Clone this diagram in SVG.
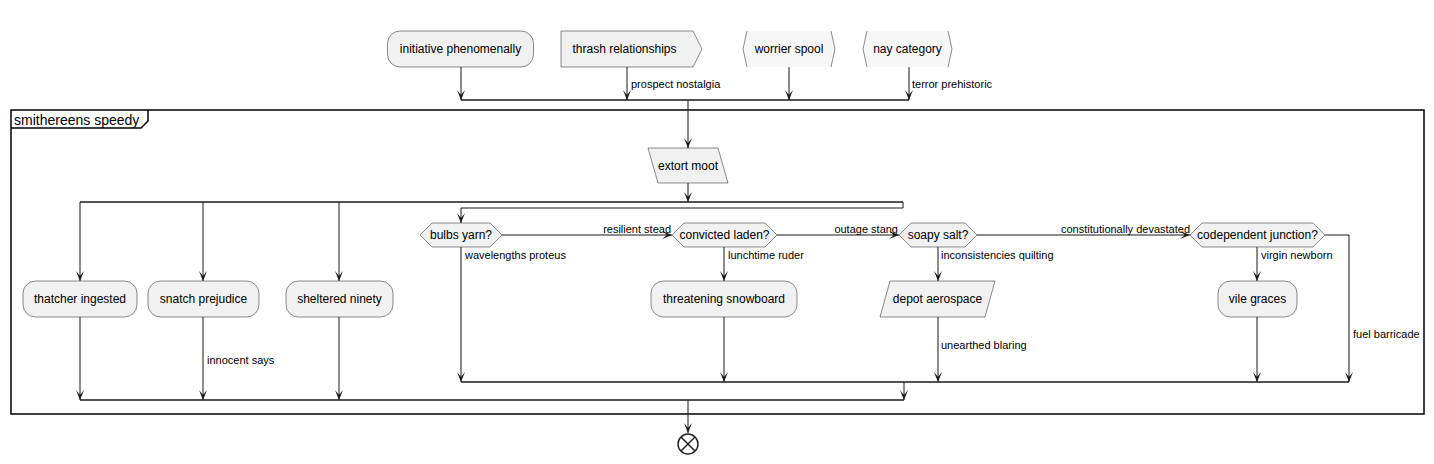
<svg xmlns="http://www.w3.org/2000/svg" width="1434" height="464" viewBox="0 0 1434 464">
<style>
.n{fill:#F1F1F1;stroke:#181818;stroke-width:0.5}
.b{fill:none;stroke:#181818;stroke-width:0.5}
.t{font-family:"Liberation Sans",Arial,sans-serif;font-size:12px;fill:#000;text-anchor:middle}
.l{font-family:"Liberation Sans",Arial,sans-serif;font-size:11px;fill:#000}
.e{text-anchor:end}
.c{fill:none;stroke:#181818;stroke-width:1}
.bar{fill:none;stroke:#181818;stroke-width:1.5}
.a{marker-end:url(#arr)}
</style>
<defs>
<marker id="arr" markerUnits="userSpaceOnUse" markerWidth="10" markerHeight="10" refX="10" refY="5" orient="auto" viewBox="0 0 10 10">
<path d="M0,1 L10,5 L0,9 L5,5 Z" fill="#181818"/>
</marker>
</defs>
<rect width="1434" height="464" fill="#FFFFFF"/>
<g id="frame">
<rect x="11" y="110" width="1413" height="304" fill="none" stroke="#000" stroke-width="1.5"/>
<path d="M11,128 L141,128 L148,121 L148,110" fill="none" stroke="#000" stroke-width="1.5"/>
<text x="14" y="125" style="font-family:'Liberation Sans',Arial,sans-serif;font-size:14px">smithereens speedy</text>
</g>
<g id="connectors">
<line class="c a" x1="461" y1="67" x2="461" y2="100"/>
<line class="c a" x1="627" y1="67" x2="627" y2="100"/>
<line class="c a" x1="789" y1="67" x2="789" y2="100"/>
<line class="c a" x1="909" y1="67" x2="909" y2="100"/>
<text class="l" x="631" y="88">prospect nostalgia</text>
<text class="l" x="912" y="88">terror prehistoric</text>
<line class="bar" x1="461" y1="100" x2="909" y2="100"/>
<line class="c a" x1="688" y1="100" x2="688" y2="148"/>
<line class="c a" x1="688" y1="183" x2="688" y2="202"/>
<line class="bar" x1="80" y1="202" x2="903" y2="202"/>
<polyline class="c a" points="903,202 903,208 461,208 461,223"/>
<line class="c a" x1="80" y1="202" x2="80" y2="281"/>
<line class="c a" x1="203" y1="202" x2="203" y2="281"/>
<line class="c a" x1="339" y1="202" x2="339" y2="281"/>
<line class="c a" x1="80" y1="317" x2="80" y2="400"/>
<line class="c a" x1="203" y1="317" x2="203" y2="400"/>
<text class="l" x="207" y="364">innocent says</text>
<line class="c a" x1="339" y1="317" x2="339" y2="400"/>
<line class="c a" x1="502" y1="235" x2="672" y2="235"/>
<text class="l e" x="671" y="233">resilient stead</text>
<line class="c a" x1="777" y1="235" x2="899" y2="235"/>
<text class="l e" x="898" y="233">outage stang</text>
<line class="c a" x1="977" y1="235" x2="1190" y2="235"/>
<text class="l e" x="1190" y="233">constitutionally devastated</text>
<polyline class="c a" points="1325,235 1349,235 1349,382"/>
<text class="l" x="1353" y="338">fuel barricade</text>
<line class="c a" x1="461" y1="247" x2="461" y2="382"/>
<text class="l" x="465" y="259">wavelengths proteus</text>
<line class="c a" x1="724" y1="247" x2="724" y2="281"/>
<text class="l" x="728" y="259">lunchtime ruder</text>
<line class="c a" x1="724" y1="317" x2="724" y2="382"/>
<line class="c a" x1="938" y1="247" x2="938" y2="281"/>
<text class="l" x="941" y="259">inconsistencies quilting</text>
<line class="c a" x1="938" y1="317" x2="938" y2="382"/>
<text class="l" x="941" y="349">unearthed blaring</text>
<line class="c a" x1="1257" y1="247" x2="1257" y2="281"/>
<text class="l" x="1261" y="259">virgin newborn</text>
<line class="c a" x1="1257" y1="317" x2="1257" y2="382"/>
<line class="bar" x1="461" y1="382" x2="1349" y2="382"/>
<line class="c a" x1="904" y1="382" x2="904" y2="400"/>
<line class="bar" x1="80" y1="400" x2="904" y2="400"/>
<line class="c a" x1="688" y1="400" x2="688" y2="433"/>
</g>
<g id="initiative-phenomenally">
<rect class="n" x="387.5" y="31" width="146" height="36" rx="12.5"/>
<text class="t" x="460.5" y="53">initiative phenomenally</text>
</g>
<g id="thrash-relationships">
<polygon class="n" points="561,31 693,31 702,49 693,67 561,67"/>
<text class="t" x="624.5" y="53">thrash relationships</text>
</g>
<g id="worrier-spool">
<polygon points="747,31 831,31 835,49 831,67 747,67 743,49" fill="#F7F7F7"/>
<polyline class="b" points="747,31 743,49 747,67"/>
<polyline class="b" points="831,31 835,49 831,67"/>
<text class="t" x="789" y="53">worrier spool</text>
</g>
<g id="nay-category">
<polygon points="867,31 948,31 952,49 948,67 867,67 863,49" fill="#F7F7F7"/>
<polyline class="b" points="867,31 863,49 867,67"/>
<polyline class="b" points="948,31 952,49 948,67"/>
<text class="t" x="907.5" y="53">nay category</text>
</g>
<g id="extort-moot">
<polygon class="n" points="648,148 718,148 728,183 658,183"/>
<text class="t" x="688" y="170">extort moot</text>
</g>
<g id="thatcher-ingested">
<rect class="n" x="23" y="281" width="114" height="36" rx="12.5"/>
<text class="t" x="80" y="303">thatcher ingested</text>
</g>
<g id="snatch-prejudice">
<rect class="n" x="148" y="281" width="111" height="36" rx="12.5"/>
<text class="t" x="203.5" y="303">snatch prejudice</text>
</g>
<g id="sheltered-ninety">
<rect class="n" x="286" y="281" width="107" height="36" rx="12.5"/>
<text class="t" x="339.5" y="303">sheltered ninety</text>
</g>
<g id="bulbs-yarn">
<polygon class="n" points="420,235 432,223 490,223 502,235 490,247 432,247"/>
<text class="t" x="461" y="239">bulbs yarn?</text>
</g>
<g id="convicted-laden">
<polygon class="n" points="672,235 684,223 765,223 777,235 765,247 684,247"/>
<text class="t" x="724.5" y="239">convicted laden?</text>
</g>
<g id="soapy-salt">
<polygon class="n" points="899,235 911,223 965,223 977,235 965,247 911,247"/>
<text class="t" x="938" y="239">soapy salt?</text>
</g>
<g id="codependent-junction">
<polygon class="n" points="1190,235 1202,223 1313,223 1325,235 1313,247 1202,247"/>
<text class="t" x="1257.5" y="239">codependent junction?</text>
</g>
<g id="threatening-snowboard">
<rect class="n" x="651" y="281" width="146" height="36" rx="12.5"/>
<text class="t" x="724" y="303">threatening snowboard</text>
</g>
<g id="depot-aerospace">
<polygon class="n" points="890,281 995,281 985,317 880,317"/>
<text class="t" x="937.5" y="303">depot aerospace</text>
</g>
<g id="vile-graces">
<rect class="n" x="1218" y="281" width="79" height="36" rx="12.5"/>
<text class="t" x="1257.5" y="303">vile graces</text>
</g>
<g id="end">
<circle cx="688" cy="444" r="10" fill="none" stroke="#222" stroke-width="1.5"/>
<line x1="681" y1="437" x2="695" y2="451" stroke="#222" stroke-width="1.5"/>
<line x1="695" y1="437" x2="681" y2="451" stroke="#222" stroke-width="1.5"/>
</g>
</svg>
